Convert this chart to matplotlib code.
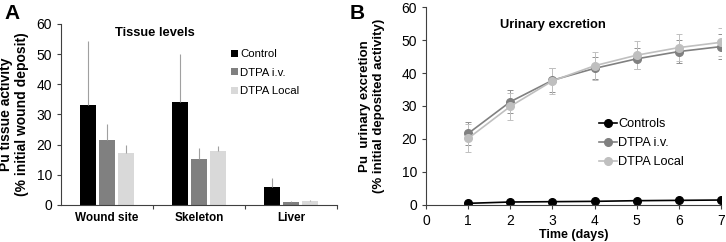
import numpy as np
import matplotlib
matplotlib.use("Agg")
import matplotlib.pyplot as plt
from matplotlib.lines import Line2D

plt.rcParams["font.family"] = ["Liberation Sans", "DejaVu Sans"]

# Panel A: tissue levels
tissues = ["Wound site", "Skeleton", "Liver"]
groups_a = ["Control", "DTPA i.v.", "DTPA Local"]
tissue_mean = {
    "Control": [33.0, 34.1, 5.9],
    "DTPA i.v.": [21.5, 15.4, 1.0],
    "DTPA Local": [17.3, 17.9, 1.4],
}
tissue_err = {
    "Control": [21.3, 15.8, 3.0],
    "DTPA i.v.": [5.3, 3.6, 0.2],
    "DTPA Local": [2.6, 1.7, 0.3],
}

# Panel B: urinary excretion
days = [1, 2, 3, 4, 5, 6, 7]
groups_b = ["Controls", "DTPA i.v.", "DTPA Local"]
urine_mean = {
    "Controls": [0.5, 0.9, 1.0, 1.1, 1.3, 1.4, 1.5],
    "DTPA i.v.": [21.7, 31.3, 37.8, 41.4, 44.3, 46.5, 48.0],
    "DTPA Local": [20.2, 29.9, 37.6, 42.2, 45.4, 47.7, 49.3],
}
urine_err = {
    "Controls": [0.1, 0.1, 0.1, 0.1, 0.1, 0.1, 0.1],
    "DTPA i.v.": [3.6, 3.5, 3.6, 3.3, 3.2, 3.6, 3.7],
    "DTPA Local": [4.2, 4.1, 3.9, 4.2, 4.3, 4.2, 4.2],
}

bar_colors = {"Control": "#000000", "DTPA i.v.": "#808080", "DTPA Local": "#d9d9d9"}
line_colors = {"Controls": "#000000", "DTPA i.v.": "#808080", "DTPA Local": "#bfbfbf"}
err_colors = {"Controls": "#000000", "DTPA i.v.": "#909090", "DTPA Local": "#c0c0c0"}

fig = plt.figure(figsize=(7.26, 2.42), dpi=100)
ax1 = fig.add_axes([0.084, 0.153, 0.380, 0.748])
ax2 = fig.add_axes([0.587, 0.153, 0.406, 0.818])

spine_col = "#404040"
for ax in (ax1, ax2):
    ax.spines["top"].set_visible(False)
    ax.spines["right"].set_visible(False)
    ax.spines["left"].set_color(spine_col)
    ax.spines["bottom"].set_color(spine_col)
    ax.tick_params(colors=spine_col, labelcolor="black", labelsize=10,
                   length=3, width=0.8)

# --- A ---
x = np.arange(len(tissues))
width = 0.175
offsets = [-0.21, 0.0, 0.21]
for g, off in zip(groups_a, offsets):
    ax1.bar(x + off, tissue_mean[g], width, color=bar_colors[g], label=g,
            yerr=[np.zeros(3), tissue_err[g]], ecolor="#a0a0a0",
            error_kw=dict(elinewidth=0.8, capsize=0))
ax1.set_xlim(-0.5, 2.5)
ax1.set_ylim(0, 60)
ax1.set_yticks(range(0, 61, 10))
ax1.set_xticks([0.5, 1.5, 2.5])
ax1.set_xticklabels([])
ax1.set_xticks(x, minor=True)
ax1.set_xticklabels(tissues, minor=True, fontweight="bold", fontsize=8.5)
ax1.tick_params(axis="x", which="minor", length=0, pad=5)
ax1.set_ylabel("Pu tissue activity\n(% initial wound deposit)",
               fontweight="bold", fontsize=10, labelpad=5)
ax1.text(0.34, 0.95, "Tissue levels", transform=ax1.transAxes,
         ha="center", va="center", fontweight="bold", fontsize=9.3)
ax1.legend(loc="upper left", bbox_to_anchor=(0.6, 0.885), frameon=False,
           fontsize=8.2, handlelength=0.6, handleheight=0.6,
           handletextpad=0.2, labelspacing=0.75, borderaxespad=0)

# --- B ---
for g in groups_b:
    ax2.errorbar(days, urine_mean[g], yerr=urine_err[g],
                 color=line_colors[g], marker="o", markersize=5.5,
                 linewidth=1.2, ecolor=err_colors[g], elinewidth=0.7,
                 capsize=2, capthick=0.7)
ax2.set_xlim(0, 7)
ax2.set_ylim(0, 60)
ax2.set_xticks(range(0, 8))
ax2.set_yticks(range(0, 61, 10))
ax2.set_xlabel("Time (days)", fontweight="bold", fontsize=9, labelpad=1)
ax2.set_ylabel("Pu  urinary excretion\n(% initial deposited activity)",
               fontweight="bold", fontsize=9.5, labelpad=12)
ax2.text(0.43, 0.91, "Urinary excretion", transform=ax2.transAxes,
         ha="center", va="center", fontweight="bold", fontsize=9.3)
handles = [Line2D([], [], color=line_colors[g], marker="o", markersize=5.5,
                  linewidth=1.2) for g in groups_b]
ax2.legend(handles, groups_b, loc="upper left", bbox_to_anchor=(0.57, 0.465),
           frameon=False, fontsize=9.2, handlelength=1.4, handletextpad=0.1,
           labelspacing=0.55, borderaxespad=0)

fig.text(0.006, 0.985, "A", fontsize=15, fontweight="bold", va="top")
fig.text(0.482, 0.985, "B", fontsize=15, fontweight="bold", va="top")

fig.savefig("out.png", dpi=100)
